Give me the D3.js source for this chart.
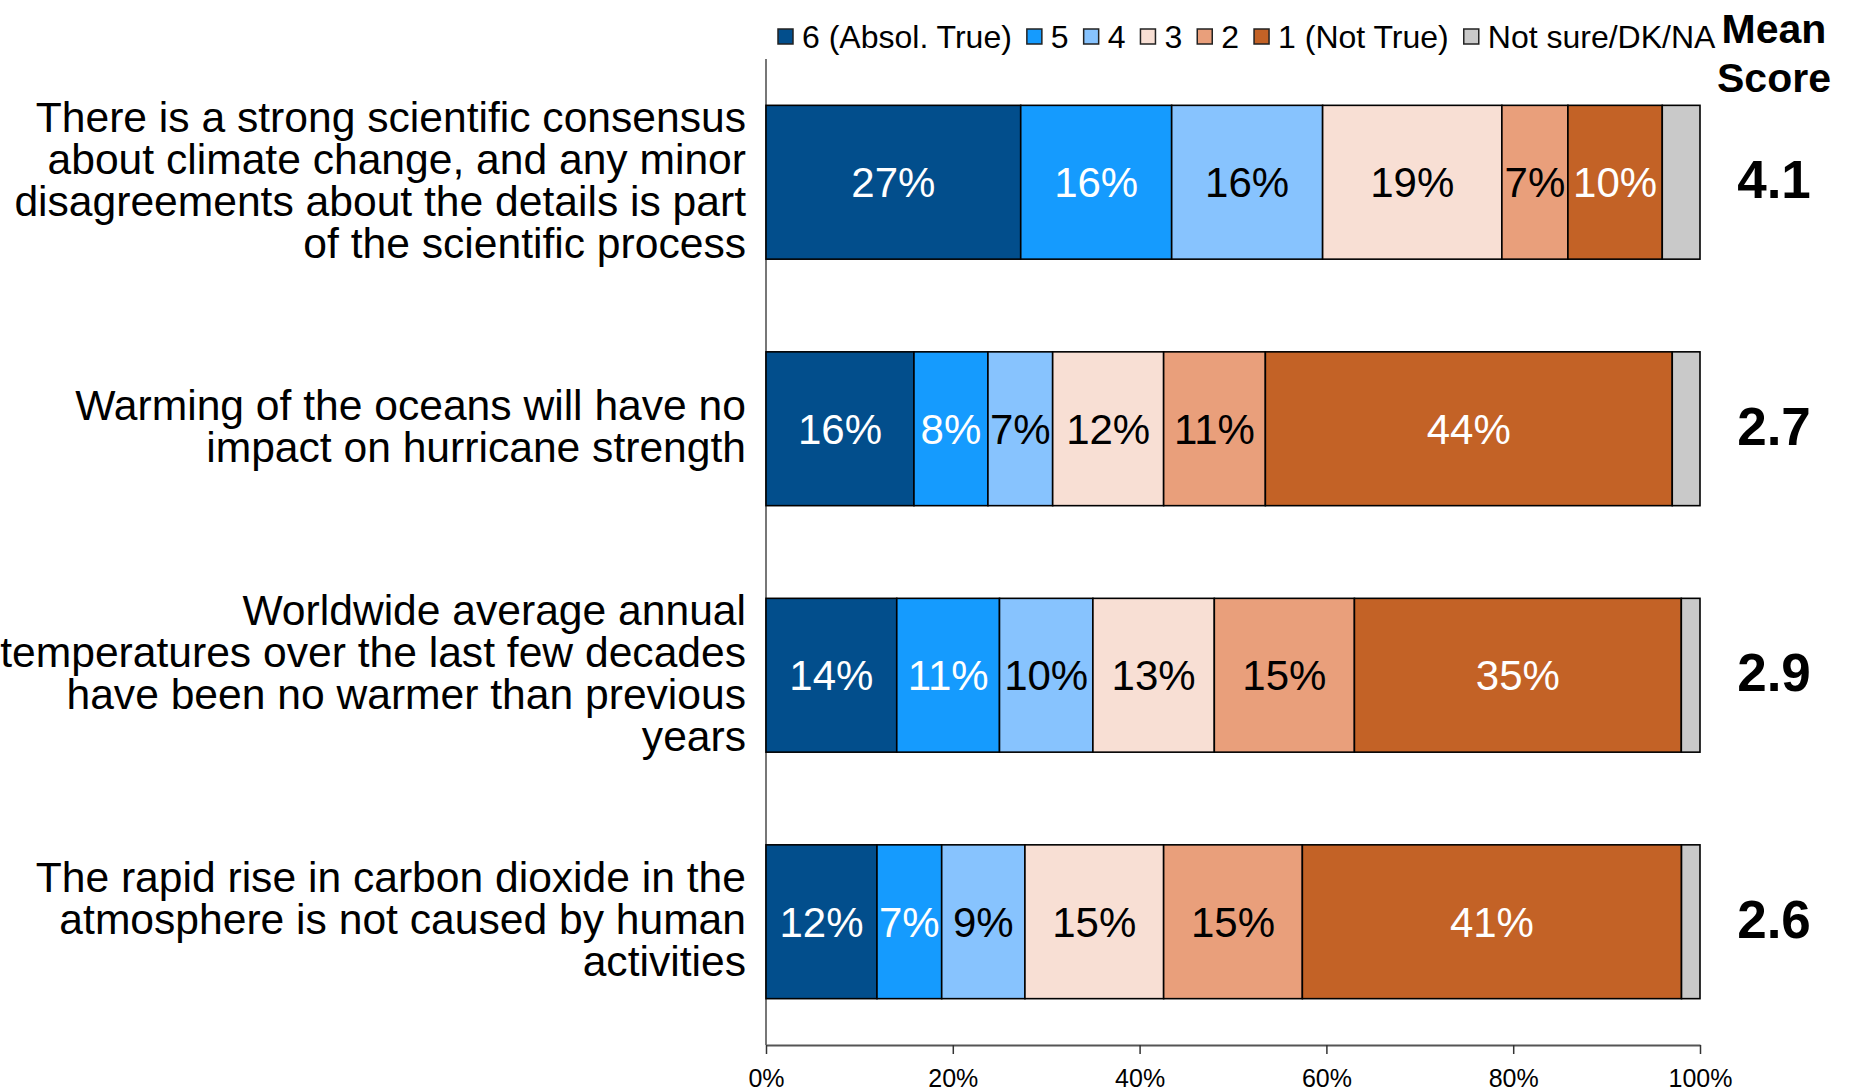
<!DOCTYPE html>
<html>
<head>
<meta charset="utf-8">
<script src="https://cdn.jsdelivr.net/npm/d3@7/dist/d3.min.js"></script>
<style>
  html, body { margin: 0; padding: 0; background: #fff; }
  svg { display: block; font-family: "Liberation Sans", Arial, sans-serif; }
</style>
</head>
<body>
<svg id="chart" width="1854" height="1091"></svg>
<script>
// Statements (one bar each), split into the lines they are printed on
const statements = [
  ["There is a strong scientific consensus", "about climate change, and any minor", "disagreements about the details is part", "of the scientific process"],
  ["Warming of the oceans will have no", "impact on hurricane strength"],
  ["Worldwide average annual", "temperatures over the last few decades", "have been no warmer than previous", "years"],
  ["The rapid rise in carbon dioxide in the", "atmosphere is not caused by human", "activities"]
];

// Response scale, from "absolutely true" down to "not true", plus non-answers
const responseNames = ["6 (Absol. True)", "5", "4", "3", "2", "1 (Not True)", "Not sure/DK/NA"];

// Share of respondents (%) per response, one value per statement
const absolTrue = [27, 16, 14, 12];
const score5    = [16,  8, 11,  7];
const score4    = [16,  7, 10,  9];
const score3    = [19, 12, 13, 15];
const score2    = [ 7, 11, 15, 15];
const notTrue   = [10, 44, 35, 41];
const notSure   = [ 4,  3,  2,  2];

// Mean score per statement
const meanScores = [4.1, 2.7, 2.9, 2.6];

// Percent axis ticks
const tickValues = [0, 0.2, 0.4, 0.6, 0.8, 1.0];

const seriesValues = [absolTrue, score5, score4, score3, score2, notTrue, notSure];
const colors = ["#024e8c", "#159bfe", "#87c3fe", "#f8dfd4", "#e99f7b", "#c36226", "#c9c9c9"];
const labelColors = ["#fff", "#fff", "#000", "#000", "#000", "#fff", null];

const rows = statements.map((s, i) => {
  const r = { key: i };
  responseNames.forEach((n, j) => { r[n] = seriesValues[j][i]; });
  return r;
});

// Each bar is normalised to 100%
const stack = d3.stack().keys(responseNames).offset(d3.stackOffsetExpand);
const layers = stack(rows);

const svg = d3.select("#chart");

const x = d3.scaleLinear().domain([0, 1]).range([766, 1700]);
const y = d3.scaleBand().domain(d3.range(statements.length)).range([59, 1045])
  .paddingInner(0.376).paddingOuter(0.188);

// Left axis line
svg.append("line")
  .attr("x1", x(0)).attr("x2", x(0))
  .attr("y1", 59).attr("y2", 1045)
  .attr("stroke", "#777").attr("stroke-width", 2);

// Bottom axis
const xAxis = d3.axisBottom(x).tickValues(tickValues)
  .tickFormat(d3.format(".0%")).tickSize(9).tickSizeOuter(0);
const gx = svg.append("g").attr("transform", "translate(0,1045)").call(xAxis);
gx.select(".domain").attr("stroke", "#555").attr("stroke-width", 2);
gx.selectAll(".tick line").attr("stroke", "#333").attr("stroke-width", 1.5);
gx.selectAll(".tick text")
  .attr("font-size", 25).attr("fill", "#000").attr("dy", "1.2em")
  .attr("font-family", "Liberation Sans, Arial, sans-serif");

// Stacked segments
const layerG = svg.append("g").selectAll("g").data(layers).join("g")
  .attr("fill", (d, i) => colors[i]);

layerG.selectAll("rect").data(d => d).join("rect")
  .attr("x", d => x(d[0]))
  .attr("y", (d, i) => y(i))
  .attr("width", d => x(d[1]) - x(d[0]))
  .attr("height", y.bandwidth())
  .attr("stroke", "#000").attr("stroke-width", 1.6);

// Percent labels inside segments
layers.forEach((layer, li) => {
  if (!labelColors[li]) return;
  svg.append("g").selectAll("text").data(layer).join("text")
    .attr("x", d => (x(d[0]) + x(d[1])) / 2)
    .attr("y", (d, i) => y(i) + y.bandwidth() / 2)
    .attr("dy", "0.36em")
    .attr("text-anchor", "middle")
    .attr("font-size", 42)
    .attr("fill", labelColors[li])
    .text((d, i) => seriesValues[li][i] + "%");
});

// Statement labels, right aligned against the axis
const lineH = 42;
svg.append("g").selectAll("text").data(statements).join("text")
  .attr("text-anchor", "end")
  .attr("font-size", 42.6)
  .attr("fill", "#000")
  .each(function(lines, i) {
    const cy = y(i) + y.bandwidth() / 2 - 3;
    const top = cy - (lines.length - 1) * lineH / 2;
    d3.select(this).selectAll("tspan").data(lines).join("tspan")
      .attr("x", 746)
      .attr("y", (l, k) => top + k * lineH)
      .attr("dy", "0.36em")
      .text(l => l);
  });

// Mean score column
const meanX = 1774;
svg.append("text").attr("x", meanX).attr("y", 43)
  .attr("text-anchor", "middle").attr("font-size", 41).attr("font-weight", "bold")
  .text("Mean");
svg.append("text").attr("x", meanX).attr("y", 92)
  .attr("text-anchor", "middle").attr("font-size", 41).attr("font-weight", "bold")
  .text("Score");
svg.append("g").selectAll("text").data(meanScores).join("text")
  .attr("x", meanX)
  .attr("y", (d, i) => y(i) + y.bandwidth() / 2 - 3)
  .attr("dy", "0.36em")
  .attr("text-anchor", "middle")
  .attr("font-size", 53).attr("font-weight", "bold")
  .text(d => d.toFixed(1));

// Legend across the top
const legend = svg.append("g");
let lx = 778;
responseNames.forEach((name, i) => {
  legend.append("rect")
    .attr("x", lx).attr("y", 29).attr("width", 15).attr("height", 15)
    .attr("fill", colors[i]).attr("stroke", "#222").attr("stroke-width", 1.5);
  const t = legend.append("text")
    .attr("x", lx + 24).attr("y", 36).attr("dy", "0.36em")
    .attr("font-size", 32).attr("fill", "#000")
    .text(name);
  lx += 24 + t.node().getComputedTextLength() + 15;
});
</script>
</body>
</html>
